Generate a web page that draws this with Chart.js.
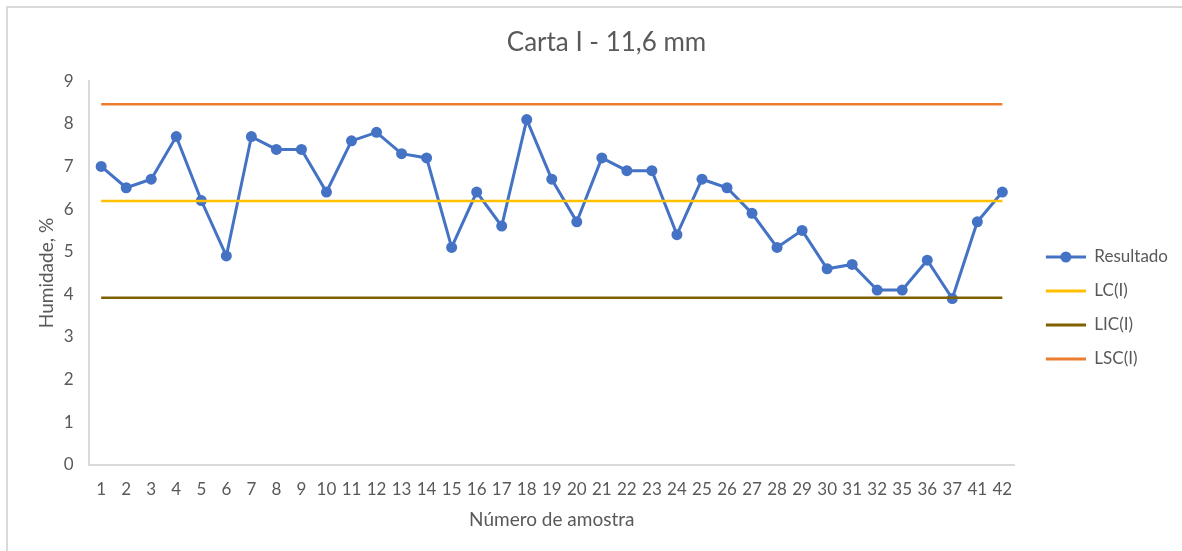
<!DOCTYPE html>
<html>
<head>
<meta charset="utf-8">
<script src="https://cdn.jsdelivr.net/npm/chart.js@4"></script>
<style>
  html, body { margin: 0; padding: 0; background: #fff; }
  #wrap { position: relative; width: 1182px; height: 551px; }
  #frame { position: absolute; left: 6px; top: 6px; right: -4px; bottom: -4px;
           border-left: 2px solid #d9d9d9; border-top: 2px solid #d9d9d9; pointer-events: none; }
</style>
</head>
<body>
<div id="wrap">
  <canvas id="chart" width="1182" height="551"></canvas>
  <div id="frame"></div>
</div>
<script>
const amostras = ["1","2","3","4","5","6","7","8","9","10","11","12","13","14","15","16","17","18","19","20",
  "21","22","23","24","25","26","27","28","29","30","31","32","35","36","37","41","42"];
const resultado = [7.0, 6.5, 6.7, 7.7, 6.2, 4.9, 7.7, 7.4, 7.4, 6.4, 7.6, 7.8, 7.3, 7.2, 5.1, 6.4, 5.6, 8.1, 6.7, 5.7,
  7.2, 6.9, 6.9, 5.4, 6.7, 6.5, 5.9, 5.1, 5.5, 4.6, 4.7, 4.1, 4.1, 4.8, 3.9, 5.7, 6.4];
const LC = 6.19;
const LIC = 3.92;
const LSC = 8.46;

const textColor = "#595959";
Chart.defaults.font.family = "Lato, 'Open Sans', sans-serif";
Chart.defaults.color = textColor;

// legend swatches: line with marker for Resultado, plain lines for limits
function swatch(color, marker) {
  const c = document.createElement("canvas");
  c.width = 54; c.height = 14;
  const ctx = c.getContext("2d");
  ctx.strokeStyle = color;
  ctx.lineWidth = 3;
  ctx.beginPath();
  ctx.moveTo(14, 7); ctx.lineTo(54, 7);
  ctx.stroke();
  if (marker) {
    ctx.fillStyle = color;
    ctx.beginPath();
    ctx.arc(34, 7, 5.5, 0, Math.PI * 2);
    ctx.fill();
  }
  return c;
}

const colors = ["#4472C4", "#FFC000", "#7F6000", "#ED7D31"];
const swatches = [swatch(colors[0], true), swatch(colors[1]), swatch(colors[2]), swatch(colors[3])];

const flat = (v) => amostras.map(() => v);

new Chart(document.getElementById("chart"), {
  type: "line",
  data: {
    labels: amostras,
    datasets: [
      { label: "Resultado", data: resultado, borderColor: colors[0], backgroundColor: colors[0],
        borderWidth: 3, pointRadius: 5.5, pointHoverRadius: 5.5, pointBorderWidth: 0, tension: 0, order: 1 },
      { label: "LC(I)", data: flat(LC), borderColor: colors[1], borderWidth: 2.5, pointRadius: 0, order: 0 },
      { label: "LIC(I)", data: flat(LIC), borderColor: colors[2], borderWidth: 2.5, pointRadius: 0, order: 0 },
      { label: "LSC(I)", data: flat(LSC), borderColor: colors[3], borderWidth: 2.5, pointRadius: 0, order: 0 },
    ],
  },
  options: {
    responsive: false,
    animation: false,
    layout: { padding: { left: 35, right: 4, top: 0, bottom: 20 } },
    plugins: {
      title: {
        display: true,
        text: "Carta I - 11,6 mm",
        color: textColor,
        font: { size: 26, weight: "normal" },
        padding: { top: 27, bottom: 23 },
      },
      legend: {
        position: "right",
        title: { display: true, text: " ", font: { size: 10 }, padding: { top: 73, bottom: 0 } },
        labels: {
          usePointStyle: true,
          pointStyleWidth: 54,
          padding: 17,
          color: textColor,
          font: { size: 17 },
          sort: (a, b) => a.datasetIndex - b.datasetIndex,
          generateLabels: (chart) =>
            Chart.defaults.plugins.legend.labels.generateLabels(chart).map((item) => {
              item.pointStyle = swatches[item.datasetIndex];
              return item;
            }),
        },
      },
      tooltip: { enabled: false },
    },
    scales: {
      x: {
        offset: true,
        grid: { display: false, drawTicks: false },
        border: { display: true, color: "#d9d9d9", width: 2 },
        ticks: { autoSkip: false, maxRotation: 0, padding: 15, color: textColor, font: { size: 17 } },
        title: { display: true, text: "Número de amostra", color: textColor, font: { size: 19 }, padding: { top: -7, bottom: 0 } },
      },
      y: {
        min: 0,
        max: 9,
        grid: { display: false, drawTicks: false },
        border: { display: true, color: "#d9d9d9", width: 2 },
        ticks: { stepSize: 1, padding: 15, color: textColor, font: { size: 17 } },
        title: { display: true, text: "Humidade, %", color: textColor, font: { size: 19 }, padding: { top: 0, bottom: -9 } },
      },
    },
  },
});
</script>
</body>
</html>
